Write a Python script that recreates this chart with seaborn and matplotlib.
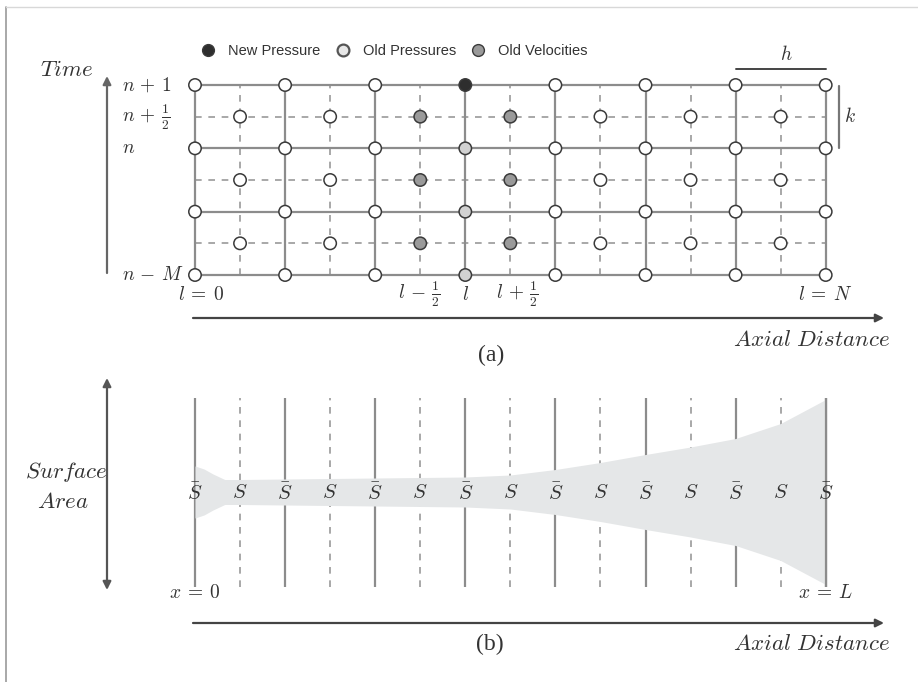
import numpy as np
import pandas as pd
import matplotlib
matplotlib.use("Agg")
import matplotlib.pyplot as plt
from matplotlib.lines import Line2D
import seaborn as sns

# ---------------- data ----------------
grid_cols = [0, 1, 2, 3, 4, 5, 6, 7]            # l = 0 .. N  (pressure nodes)
grid_rows = [0, 1, 2, 3]                        # n-M .. n+1  (time levels)
half_cols = [0.5, 1.5, 2.5, 3.5, 4.5, 5.5, 6.5] # velocity nodes
half_rows = [0.5, 1.5, 2.5]
row_label_pos = [0, 2, 2.5, 3]
row_label_txt = [r"$n\,-\,M$", r"$n$", r"$n\,+\,\frac{1}{2}$", r"$n\,+\,1$"]
col_label_pos = [0, 2.5, 3, 3.5, 7]
col_label_txt = [r"$l\:=\:0$", r"$l\,-\,\frac{1}{2}$", r"$l$", r"$l\,+\,\frac{1}{2}$", r"$l\:=\:N$"]
col_label_shift = [0.07, -0.01, 0, 0.08, 0]
new_pressure_node = (3, 3)
old_pressure_col = 3
old_pressure_rows = [0, 1, 2]
velocity_cols = [2.5, 3.5]
velocity_rows = [0.5, 1.5, 2.5]
legend_labels = ["New Pressure", "Old Pressures", "Old Velocities"]

# surface area profile (half-width, arbitrary units) along the duct
profile_x = [0, 0.1, 0.2, 0.33, 0.5, 1, 1.5, 2, 2.5, 3, 3.5, 4, 4.5, 5, 5.5, 6, 6.5, 7]
profile_r = [2.6, 2.3, 1.8, 1.25, 1.25, 1.3, 1.35, 1.4, 1.45, 1.5, 1.7, 2.25, 2.95,
             3.75, 4.5, 5.35, 6.85, 9.25]
section_x = [0, 0.5, 1, 1.5, 2, 2.5, 3, 3.5, 4, 4.5, 5, 5.5, 6, 6.5, 7]
section_txt = [r"$\bar{S}$" if float(v).is_integer() else r"$S$" for v in section_x]

# ---------------- style ----------------
sns.set_theme(style="white")
plt.rcParams["mathtext.fontset"] = "cm"
plt.rcParams["font.family"] = ["Liberation Sans", "DejaVu Sans"]

W, H = 918, 682
fig = plt.figure(figsize=(W / 100, H / 100), dpi=100)

# pixel mapping of the grid units
X0, DX = 195.0, 90.1         # l=0 at px 195, 90.1 px per unit
Y0A, DYA = 275.0, 63.33      # time level 0 at px 275
Y0B, DYB = 492.0, 10.0       # profile centre at px 492

def full_axes():
    ax = fig.add_axes([0, 0, 1, 1])
    ax.set_axis_off()
    ax.patch.set_alpha(0)
    return ax

ax_b = full_axes()
ax_b.set_xlim(-X0 / DX, (W - X0) / DX)
ax_b.set_ylim((Y0B - H) / DYB, Y0B / DYB)

ax_a = full_axes()
ax_a.set_xlim(-X0 / DX, (W - X0) / DX)
ax_a.set_ylim((Y0A - H) / DYA, Y0A / DYA)

ax_p = full_axes()
ax_p.set_xlim(0, W)
ax_p.set_ylim(H, 0)

LINE = "#8c8c8c"
DASH = "#9a9a9a"
EDGE = "#3a3a3a"
TXT = "#333333"
palette = {"New Pressure": "#2e2e2e", "Old Pressures": "#d2d2d2",
           "Old Velocities": "#9a9a9a", "Other": "#ffffff"}

# ---------------- panel (a) ----------------
tmin, tmax = min(grid_rows), max(grid_rows)
lmin, lmax = min(grid_cols), max(grid_cols)
ax_a.hlines(half_rows, lmin, lmax, colors=DASH, linestyles=(0, (4, 4)), lw=1.2, zorder=1)
ax_a.vlines(half_cols, tmin, tmax, colors=DASH, linestyles=(0, (4, 4)), lw=1.2, zorder=1)
ax_a.hlines(grid_rows, lmin, lmax, colors=LINE, lw=1.6, zorder=2)
ax_a.vlines(grid_cols, tmin, tmax, colors=LINE, lw=1.6, zorder=2)

rows = []
for l in grid_cols:
    for t in grid_rows:
        kind = "Other"
        if (l, t) == new_pressure_node:
            kind = "New Pressure"
        elif l == old_pressure_col and t in old_pressure_rows:
            kind = "Old Pressures"
        rows.append((l, t, kind))
for l in half_cols:
    for t in half_rows:
        kind = "Old Velocities" if (l in velocity_cols and t in velocity_rows) else "Other"
        rows.append((l, t, kind))
nodes = pd.DataFrame(rows, columns=["l", "t", "kind"])
sns.scatterplot(data=nodes, x="l", y="t", hue="kind", palette=palette, s=80,
                edgecolor=EDGE, linewidth=1.1, legend=False, ax=ax_a, zorder=5,
                clip_on=False)
ax_a.set_xlim(-X0 / DX, (W - X0) / DX)
ax_a.set_ylim((Y0A - H) / DYA, Y0A / DYA)
ax_a.set_axis_off()

MS = 14
for pos, txt in zip(row_label_pos, row_label_txt):
    ax_a.text(-0.81, pos, txt, fontsize=MS, color=TXT, ha="left", va="center")
for pos, txt, sh in zip(col_label_pos, col_label_txt, col_label_shift):
    ax_a.text(pos + sh, -0.31, txt, fontsize=MS, color=TXT, ha="center", va="center")

# ---------------- panel (b) ----------------
pr = np.array(profile_r)
vtop, vbot = 9.4, -9.5
sol = [v for v in section_x if float(v).is_integer()]
dsh = [v for v in section_x if not float(v).is_integer()]
ax_b.vlines(sol, vbot, vtop, colors=LINE, lw=1.6, zorder=2)
ax_b.vlines(dsh, vbot, vtop, colors=DASH, linestyles=(0, (4, 4)), lw=1.2, zorder=2)
ax_b.fill_between(profile_x, -pr, pr, color="#e5e7e8", lw=0, zorder=3)
ax_b.vlines([max(sol)], vbot, vtop, colors=LINE, lw=1.6, zorder=4)
for xv, txt in zip(section_x, section_txt):
    ax_b.text(xv, -0.1, txt, fontsize=15, color=TXT, ha="center", va="center", zorder=6)
ax_b.text(0, -10.1, r"$x\:=\:0$", fontsize=MS, color=TXT, ha="center", va="center")
ax_b.text(7, -10.1, r"$x\:=\:L$", fontsize=MS, color=TXT, ha="center", va="center")

# ---------------- annotations (pixel overlay) ----------------
ax_p.plot([6, 6], [7, H], color="#9a9a9a", lw=1.2)
ax_p.plot([6, W], [7, 7], color="#d8d8d8", lw=1.0)

arr = dict(arrowstyle="-|>", color="#444444", lw=1.6, mutation_scale=12,
           shrinkA=0, shrinkB=0)
ax_p.annotate("", xy=(107, 76), xytext=(107, 273), arrowprops=dict(arr, color="#666666"))
ax_p.annotate("", xy=(884, 318), xytext=(193, 318), arrowprops=arr)
ax_p.annotate("", xy=(884, 623), xytext=(193, 623), arrowprops=arr)
ax_p.annotate("", xy=(107, 378), xytext=(107, 590),
              arrowprops=dict(arr, arrowstyle="<|-|>", color="#555555"))

LS = 16.5
ax_p.text(40, 69, r"$Time$", fontsize=LS, color=TXT, ha="left", va="center")
ax_p.text(890, 340, r"$Axial\ Distance$", fontsize=LS, color=TXT, ha="right", va="center")
ax_p.text(890, 643, r"$Axial\ Distance$", fontsize=LS, color=TXT, ha="right", va="center")
ax_p.text(66, 472, r"$Surface$", fontsize=LS, color=TXT, ha="center", va="center")
ax_p.text(63, 502, r"$Area$", fontsize=LS, color=TXT, ha="center", va="center")
ax_p.text(491, 355, "(a)", fontsize=17, color=TXT, ha="center", va="center",
          family="Liberation Serif")
ax_p.text(490, 644, "(b)", fontsize=17, color=TXT, ha="center", va="center",
          family="Liberation Serif")

# h and k spacing markers
ax_p.plot([736, 826], [69, 69], color="#444444", lw=1.4)
ax_p.text(786, 54, r"$h$", fontsize=MS, color=TXT, ha="center", va="center")
ax_p.plot([839, 839], [86, 148], color="#777777", lw=1.6)
ax_p.text(850, 117, r"$k$", fontsize=MS, color=TXT, ha="center", va="center")

# legend
handles = [Line2D([], [], ls="none", marker="o", markersize=8.5,
                  markerfacecolor=palette[k],
                  markeredgecolor=EDGE if k != legend_labels[1] else "#555555",
                  markeredgewidth=1.0 if k != legend_labels[1] else 1.6)
           for k in legend_labels]
handles[1].set_markerfacecolor("#e8e8e8")
fig.legend(handles, legend_labels, ncol=3, loc="center left",
           bbox_to_anchor=(201 / W, 1 - 51 / H), frameon=False, fontsize=10.5,
           handlelength=1.0, handletextpad=0.85, columnspacing=1.05,
           labelcolor=TXT, borderpad=0, borderaxespad=0)

fig.savefig("out.png", dpi=100)
